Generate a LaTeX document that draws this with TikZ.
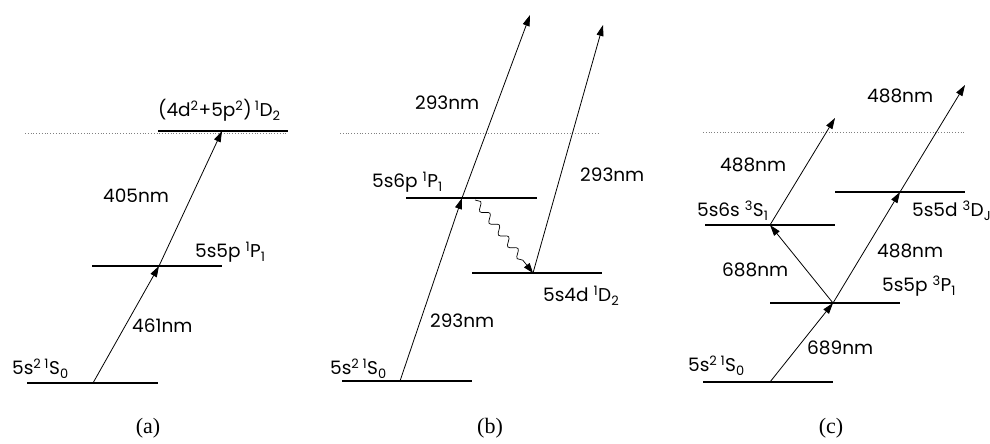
\documentclass[tikz,border=0pt]{standalone}
\usepackage{fontspec}
\newfontfamily\lvlfont{Poppins}
\newfontfamily\capfont{Liberation Serif}
\usetikzlibrary{arrows.meta, decorations.pathmorphing}
\tikzset{
  lvlline/.style={line width=2.2pt},
  trans/.style={line width=0.8pt, -{Triangle[length=11pt,width=7pt]}},
  decay/.style={line width=0.7pt, decorate,
    decoration={snake, amplitude=3.5pt, segment length=15pt, post length=10pt},
    -{Triangle[length=10pt,width=7pt]}},
  ionlim/.style={gray, line width=0.8pt, dotted},
  lbl/.style={anchor=base west, inner sep=0pt, font=\lvlfont\fontsize{18.5}{22}\selectfont},
  subcap/.style={inner sep=0pt, font=\capfont\fontsize{22}{24}\selectfont}
}
\newcommand{\up}[1]{\textsuperscript{#1}}
\newcommand{\dn}[1]{\textsubscript{#1}}

\begin{document}
\begin{tikzpicture}[x=1pt, y=1pt]
\useasboundingbox (0,0) rectangle (990,444);
% (a)
\begin{scope}[shift={(0,0)}]
\draw[ionlim] (25,311) -- (288,311);
\coordinate (ga1) at (27,61);  \coordinate (ga2) at (158,61);  \coordinate (ga) at (93,61);
\coordinate (pa1) at (92,178); \coordinate (pa2) at (222,178); \coordinate (pa) at (159,178);
\coordinate (da1) at (158,313);\coordinate (da2) at (288,313); \coordinate (da) at (222,313);
\draw[lvlline] (ga1) -- (ga2);
\draw[lvlline] (pa1) -- (pa2);
\draw[lvlline] (da1) -- (da2);
\draw[trans] (ga) -- (pa);
\draw[trans] (pa) -- (da);
\node[lbl] (sa) at (12,69) {5s\up{2}\,\up{1}S\dn{0}};
\node[lbl] (ppa) at (195,186) {5s5p \up{1}P\dn{1}};
\node[lbl] (dda) at (158,327) {(4d\up{2}+5p\up{2})\,\up{1}D\dn{2}};
\node[lbl] (wa1) at (132,111) {461nm};
\node[lbl] (wa2) at (103,241) {405nm};
\node[subcap] (capa) at (148,15.5) {(a)};
\end{scope}
% (b)
\begin{scope}[shift={(320,0)}]
\draw[ionlim] (20,311) -- (280,311);
\coordinate (gb1) at (22,63);   \coordinate (gb2) at (152,63);  \coordinate (gb) at (80,63);
\coordinate (pb1) at (86,246);  \coordinate (pb2) at (217,246); \coordinate (pb) at (142,246);
\coordinate (db1) at (152,171); \coordinate (db2) at (282,171); \coordinate (db) at (213,171);
\coordinate (ib1) at (210,429); \coordinate (ib2) at (283,419);
\coordinate (wb1) at (155,244);
\draw[lvlline] (gb1) -- (gb2);
\draw[lvlline] (pb1) -- (pb2);
\draw[lvlline] (db1) -- (db2);
\draw[trans] (gb) -- (pb);
\draw[trans] (pb) -- (ib1);
\draw[trans] (db) -- (ib2);
\draw[decay] (wb1) -- (db);
\node[lbl] (sb) at (10,69) {5s\up{2}\,\up{1}S\dn{0}};
\node[lbl] (ppb) at (52,256) {5s6p \up{1}P\dn{1}};
\node[lbl] (ddb) at (223,142) {5s4d \up{1}D\dn{2}};
\node[lbl] (wb1l) at (110,116) {293nm};
\node[lbl] (wb2l) at (95,334) {293nm};
\node[lbl] (wb3l) at (260,262) {293nm};
\node[subcap] (capb) at (170,15.5) {(b)};
\end{scope}
% (c)
\begin{scope}[shift={(660,0)}]
\draw[ionlim] (43,312) -- (305,312);
\coordinate (gc1) at (43,62);   \coordinate (gc2) at (173,62);  \coordinate (gc) at (110,62);
\coordinate (pc1) at (110,141); \coordinate (pc2) at (240,141); \coordinate (pc) at (173,141);
\coordinate (sc1) at (45,219);  \coordinate (sc2) at (175,219); \coordinate (sc) at (110,219);
\coordinate (dc1) at (175,252); \coordinate (dc2) at (305,252); \coordinate (dc) at (240,252);
\coordinate (ic1) at (175,326); \coordinate (ic2) at (305,359);
\draw[lvlline] (gc1) -- (gc2);
\draw[lvlline] (pc1) -- (pc2);
\draw[lvlline] (sc1) -- (sc2);
\draw[lvlline] (dc1) -- (dc2);
\draw[trans] (gc) -- (pc);
\draw[trans] (pc) -- (sc);
\draw[trans] (sc) -- (ic1);
\draw[trans] (pc) -- (dc);
\draw[trans] (dc) -- (ic2);
\node[lbl] (sgc) at (28,72) {5s\up{2}\,\up{1}S\dn{0}};
\node[lbl] (ppc) at (222,152) {5s5p \up{3}P\dn{1}};
\node[lbl] (ssc) at (37,227) {5s6s \up{3}S\dn{1}};
\node[lbl] (ddc) at (252,227) {5s5d \up{3}D\dn{J}};
\node[lbl] (wc1) at (147,89) {689nm};
\node[lbl] (wc2) at (62,167) {688nm};
\node[lbl] (wc3) at (60,272) {488nm};
\node[lbl] (wc4) at (217,186) {488nm};
\node[lbl] (wc5) at (207,341) {488nm};
\node[subcap] (capc) at (171,15.5) {(c)};
\end{scope}
\end{tikzpicture}
\end{document}
